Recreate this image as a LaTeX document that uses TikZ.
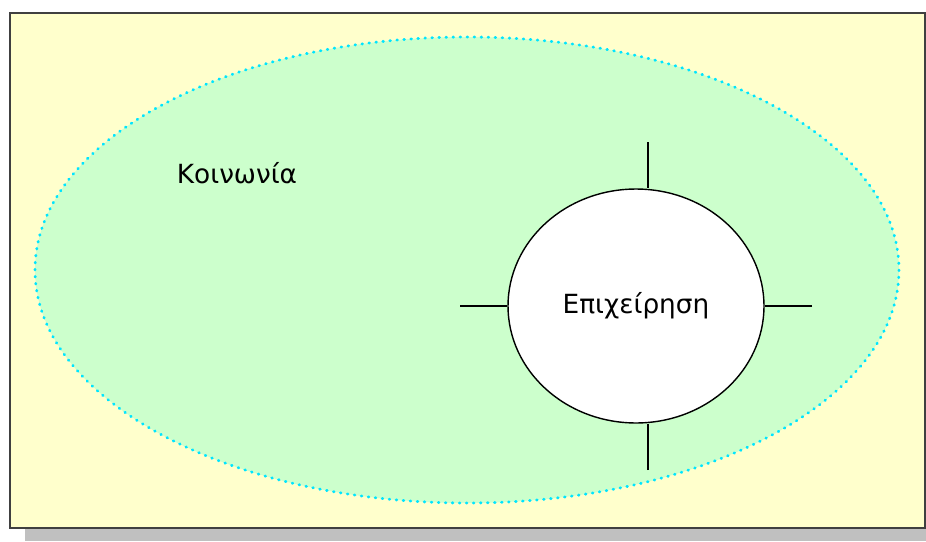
\documentclass[tikz,border=0pt]{standalone}
\usepackage{fontspec}
\setmainfont{DejaVu Sans}
\usetikzlibrary{shapes.geometric}
\definecolor{pagebg}{HTML}{FFFFCC}
\definecolor{societybg}{HTML}{CCFFCC}
\definecolor{dotcyan}{HTML}{00E5FF}
\definecolor{shadowgray}{HTML}{C0C0C0}
\definecolor{framegray}{HTML}{404040}

\begin{document}
\begin{tikzpicture}[x=0.02cm, y=-0.02cm, every node/.style={font=\fontsize{15}{17}\selectfont}]
\tikzset{
  society/.style={ellipse, fill=societybg, minimum width=17.28cm, minimum height=9.32cm, inner sep=0pt},
  dots/.style={draw=dotcyan, line width=1.6pt, line cap=round, dash pattern=on 0.4pt off 3.6pt},
  firm/.style={ellipse, draw=black, fill=white, thick, minimum width=5.12cm, minimum height=4.68cm, inner sep=0pt},
  tick/.style={draw=black, thick},
}
\useasboundingbox (0,0) rectangle (926,541);
% frame and shadow
\fill[shadowgray] (25,528) rectangle (926,541);
\draw[fill=pagebg, draw=framegray, line width=1.1pt] (10,13) rectangle (925,528);
% society
\node[society] (soc) at (467,270) {};
\draw[dots] (soc.center) ellipse [x radius=432, y radius=233];
\node (socl) at (237,173) {Κοινωνία};
% firm
\node[firm] (firm) at (636,306) {Επιχείρηση};
\coordinate (tN) at (648,142);
\coordinate (tS) at (648,470);
\coordinate (tW) at (460,306);
\coordinate (tE) at (812,306);
\draw[tick] (tN) -- (tN |- firm.north);
\draw[tick] (tS) -- (tS |- firm.south);
\draw[tick] (tW) -- (firm.west);
\draw[tick] (tE) -- (firm.east);
\end{tikzpicture}
\end{document}
